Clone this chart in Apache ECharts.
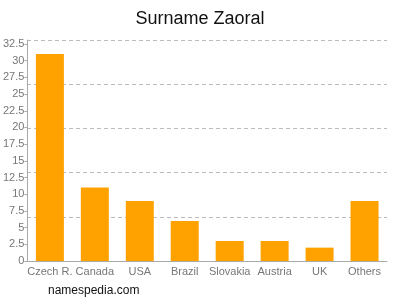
<!DOCTYPE html>
<html><head><meta charset="utf-8">
<script src="https://cdn.jsdelivr.net/npm/echarts@6/dist/echarts.min.js"></script>
<style>html,body{margin:0;padding:0;background:#fff}#c{width:400px;height:300px}</style>
</head><body><div id="c"></div>
<script>
var categories = ["Czech R.", "Canada", "USA", "Brazil", "Slovakia", "Austria", "UK", "Others"];
var values = [31, 11, 9, 6, 3, 3, 2, 9];
var yMax = 32.5;
var yInterval = 2.5;
var gridBands = 5;

var font = 'Liberation Sans, Arial, sans-serif';
var chart = echarts.init(document.getElementById('c'), null, {renderer: 'canvas'});
chart.setOption({
  animation: false,
  backgroundColor: '#fff',
  title: {text: 'Surname Zaoral', left: 'center', top: 5,
    textStyle: {fontFamily: font, fontSize: 18, fontWeight: 'normal', color: '#111'}},
  graphic: [{type: 'text', left: 48, top: 285,
    style: {text: 'namespedia.com', fontFamily: font, fontSize: 12, fill: '#111'}}],
  grid: [
    {left: 27, right: 13, top: 44, bottom: 39, containLabel: false},
    {left: 27, right: 13, top: 40, bottom: 39, containLabel: false}
  ],
  xAxis: [
    {type: 'category', data: categories, boundaryGap: true, gridIndex: 0,
      axisLine: {lineStyle: {color: '#aaa'}},
      axisTick: {alignWithLabel: true, length: 4, lineStyle: {color: '#aaa'}},
      axisLabel: {color: '#777', fontSize: 11, fontFamily: font, margin: 5, interval: 0}},
    {type: 'category', data: categories, gridIndex: 1, show: false}
  ],
  yAxis: [
    {type: 'value', min: 0, max: yMax, interval: yInterval, gridIndex: 0,
      axisLine: {show: true, lineStyle: {color: '#aaa'}},
      axisTick: {show: true, length: 3, lineStyle: {color: '#aaa'}},
      splitLine: {show: false},
      axisLabel: {color: '#777', fontSize: 11, fontFamily: font, margin: 3}},
    {type: 'value', min: 0, max: gridBands, interval: 1, gridIndex: 1,
      axisLine: {show: true, lineStyle: {color: '#aaa'}}, axisTick: {show: false}, axisLabel: {show: false},
      splitLine: {show: true, lineStyle: {color: '#bbb', type: [4, 3]}}}
  ],
  series: [{type: 'bar', data: values, xAxisIndex: 0, yAxisIndex: 0, barWidth: 28, z: 3,
    itemStyle: {color: '#ffa200'}}]
});
</script></body></html>
